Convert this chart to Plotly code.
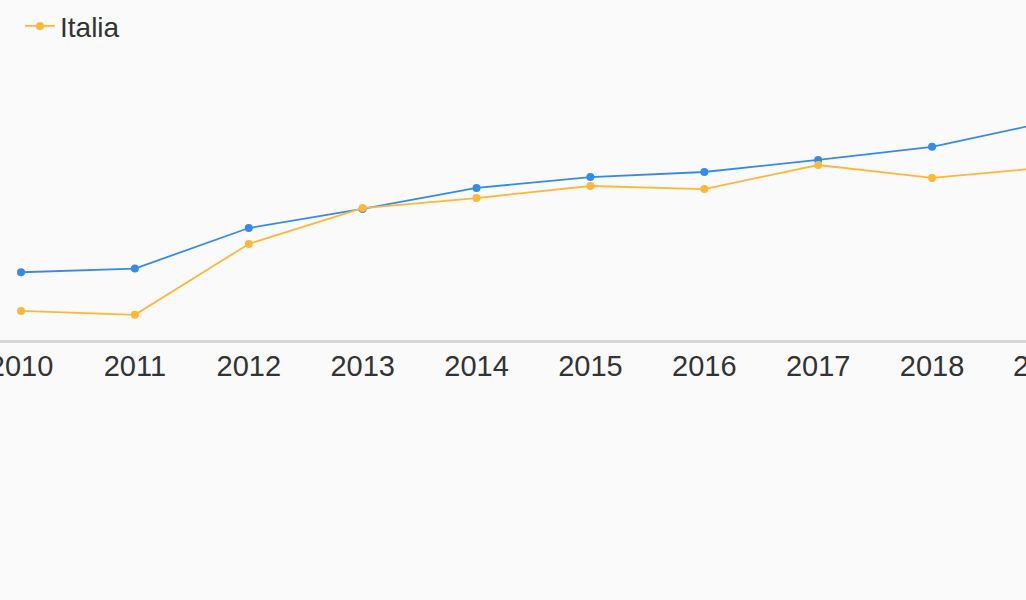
import plotly.graph_objects as go

years = [2010, 2011, 2012, 2013, 2014, 2015, 2016, 2017, 2018, 2019]
tick_labels = [str(y) for y in years]
blue_values = [24.2, 25.5, 40.0, 46.8, 54.3, 58.2, 60.0, 64.3, 69.0, 77.7]
italia_values = [10.4, 9.0, 34.3, 47.1, 50.7, 55.0, 53.9, 62.5, 57.9, 61.6]

BLUE = "#358bea"
ORANGE = "#fdb83a"
FONT = "Liberation Sans, Arial, sans-serif"
TEXT = "#333333"
FS = 28
TICK_FS = 29

x_range = [2009.8156, 2018.825]

fig = go.Figure()
fig.add_trace(go.Scatter(
    x=years, y=blue_values, mode="lines+markers", name="",
    line=dict(color=BLUE, width=1.8), marker=dict(color=BLUE, size=8),
    showlegend=False, cliponaxis=True,
))
fig.add_trace(go.Scatter(
    x=years, y=italia_values, mode="lines+markers", name="Italia",
    line=dict(color=ORANGE, width=1.8), marker=dict(color=ORANGE, size=8),
    cliponaxis=True,
))

# label for the last year, whose tick falls just past the visible range
last = years[-1]
frac = (last - x_range[0]) / (x_range[1] - x_range[0])
fig.add_annotation(
    x=frac, xref="paper", y=0, yref="paper", yshift=-26,
    text=tick_labels[-1], showarrow=False,
    font=dict(family=FONT, size=TICK_FS, color=TEXT),
    xanchor="center", yanchor="middle",
)

fig.update_layout(
    width=1026, height=600,
    margin=dict(l=0, r=0, t=60, b=260, autoexpand=False),
    paper_bgcolor="#fafafa", plot_bgcolor="#fafafa",
    font=dict(family=FONT, size=FS, color=TEXT),
    showlegend=True,
    legend=dict(x=0.0195, y=0.998, xanchor="left", yanchor="top",
                yref="container", font=dict(size=FS, color=TEXT),
                bgcolor="rgba(0,0,0,0)", itemwidth=30),
    xaxis=dict(range=x_range, tickmode="array", tickvals=years,
               ticktext=tick_labels, showgrid=False, zeroline=False,
               showline=True, linecolor="#d6d6d6", linewidth=2.5,
               ticks="", ticklabeloverflow="allow", automargin=False,
               ticklabelstandoff=-2,
               tickfont=dict(family=FONT, size=TICK_FS, color=TEXT)),
    yaxis=dict(range=[0, 100], visible=False, showgrid=False,
               zeroline=False, automargin=False),
)

fig.write_html(
    "out.html",
    config={"displayModeBar": False},
    post_script="document.body.style.margin='0';document.body.style.overflow='hidden';",
)
